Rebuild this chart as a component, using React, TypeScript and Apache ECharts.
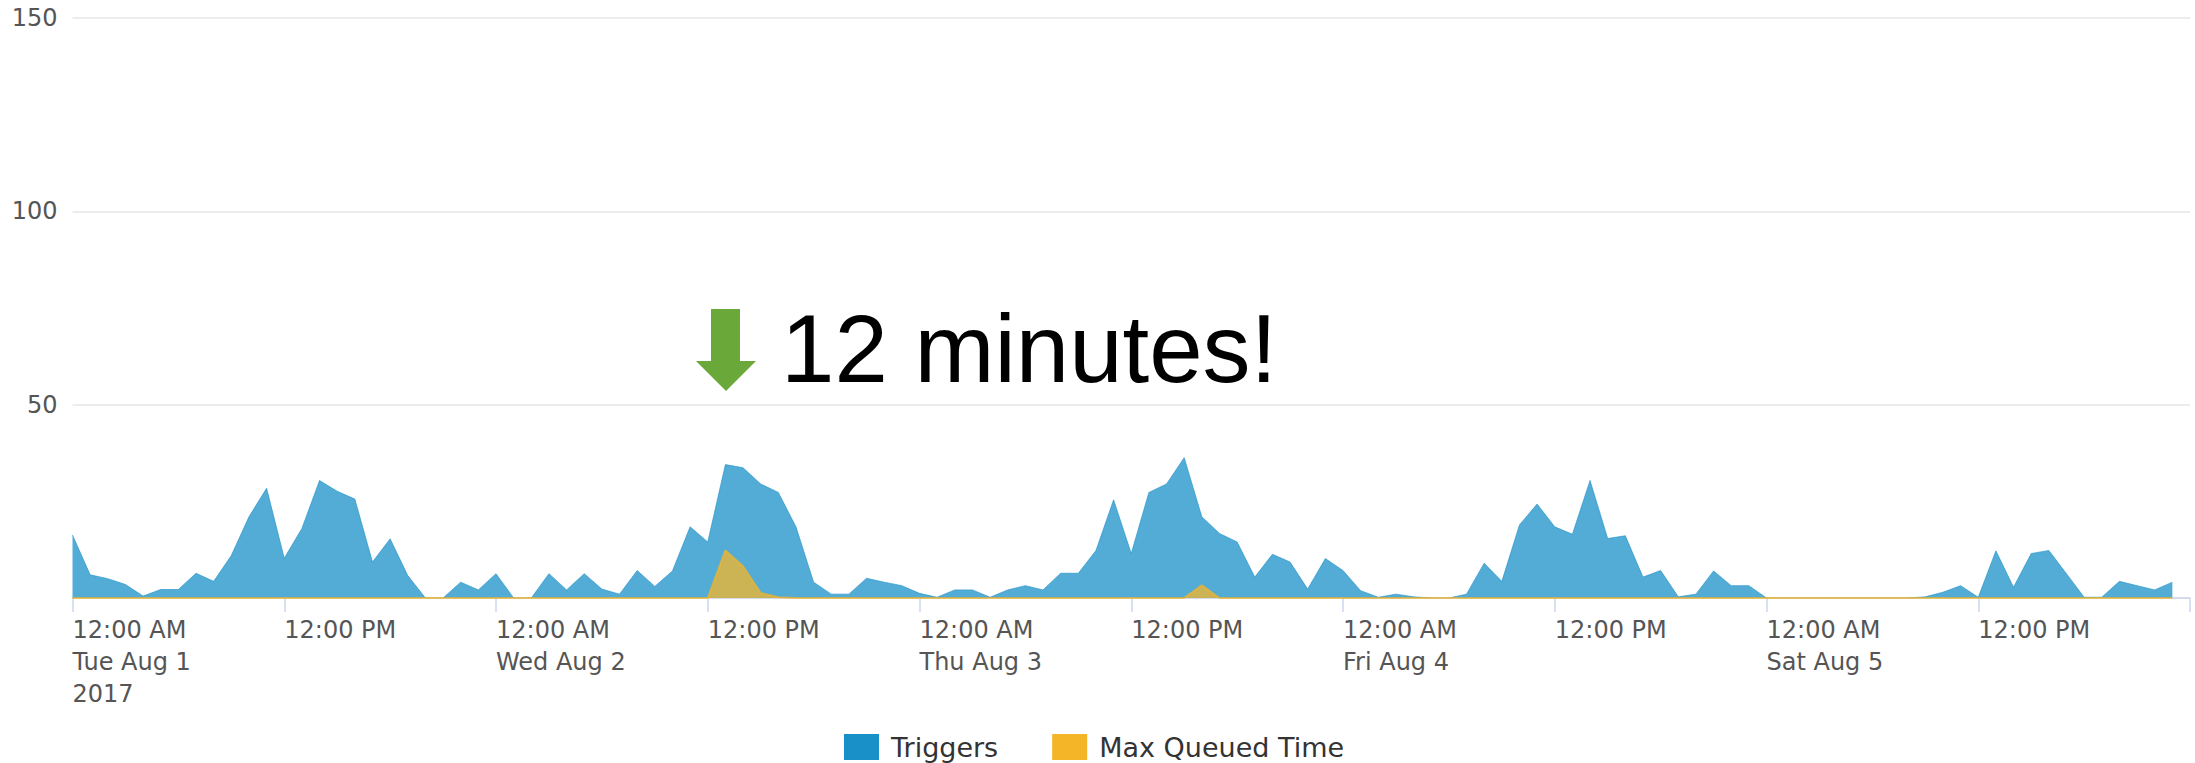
import React, { useEffect, useRef } from "react";
import * as echarts from "echarts";

// Hourly values, Tue Aug 1 2017 00:00 -> Sat Aug 5 23:00
const triggers = [
  16.3, 6, 5, 3.5, 0.5, 2.2, 2.2, 6.4, 4.3, 11, 21, 28.4,
  10.3, 18, 30.4, 27.6, 25.6, 9.3, 15.3, 5.8, 0, 0, 4.1, 2.1,
  6.3, 0, 0, 6.3, 2.1, 6.3, 2.3, 1, 7.1, 3, 7, 18.4,
  14.5, 34.5, 33.7, 29.5, 27.3, 18.4, 4.1, 1, 1, 5.1, 4.1, 3.2,
  1.2, 0.2, 2.1, 2.1, 0.2, 2.1, 3.2, 2.1, 6.4, 6.4, 12.3, 25.4,
  11.5, 27.3, 29.5, 36.3, 21, 16.7, 14.5, 5.4, 11.3, 9.3, 2.3, 10.2,
  7.1, 1.9, 0.2, 1, 0.3, 0, 0, 1, 9, 4.3, 18.9, 24.3,
  18.4, 16.5, 30.4, 15.4, 16.1, 5.4, 7.1, 0.3, 1, 7, 3.2, 3.2,
  0, 0, 0, 0, 0, 0, 0, 0, 0, 0.3, 1.5, 3.2,
  0.2, 12.2, 2.8, 11.5, 12.3, 6.3, 0.2, 0.2, 4.3, 3.2, 2.1, 4.1,
];

const maxQueuedTime = [
  0, 0, 0, 0, 0, 0, 0, 0, 0, 0, 0, 0,
  0, 0, 0, 0, 0, 0, 0, 0, 0, 0, 0, 0,
  0, 0, 0, 0, 0, 0, 0, 0, 0, 0, 0, 0,
  0, 12.3, 8.2, 1.3, 0.2, 0, 0, 0, 0, 0, 0, 0,
  0, 0, 0, 0, 0, 0, 0, 0, 0, 0, 0, 0,
  0, 0, 0, 0, 3.3, 0, 0, 0, 0, 0, 0, 0,
  0, 0, 0, 0, 0, 0, 0, 0, 0, 0, 0, 0,
  0, 0, 0, 0, 0, 0, 0, 0, 0, 0, 0, 0,
  0, 0, 0, 0, 0, 0, 0, 0, 0, 0, 0, 0,
  0, 0, 0, 0, 0, 0, 0, 0, 0, 0, 0, 0,
];

const xTickLabels = [
  "12:00 AM\nTue Aug 1\n2017",
  "12:00 PM",
  "12:00 AM\nWed Aug 2",
  "12:00 PM",
  "12:00 AM\nThu Aug 3",
  "12:00 PM",
  "12:00 AM\nFri Aug 4",
  "12:00 PM",
  "12:00 AM\nSat Aug 5",
  "12:00 PM",
  "",
];

const yTicks = [0, 50, 100, 150];
const yTickLabels = ["", "50", "100", "150"];

const seriesNames = ["Triggers", "Max Queued Time"];
const annotationText = "12 minutes!";

const BLUE = "#1a90c8";
const YELLOW = "#f4b528";

export default function App() {
  const ref = useRef<HTMLDivElement>(null);

  useEffect(() => {
    if (!ref.current) return;
    const chart = echarts.init(ref.current, undefined, { renderer: "svg" });
    const font = "'DejaVu Sans', sans-serif";
    chart.setOption({
      animation: false,
      grid: { left: 72.5, right: 5, top: 18, bottom: 165 },
      legend: {
        data: seriesNames,
        left: 839,
        top: 728,
        icon: "rect",
        itemWidth: 35,
        itemHeight: 26,
        itemGap: 54,
        textStyle: {
          fontFamily: font,
          fontSize: 27,
          lineHeight: 28,
          color: "#333333",
          padding: [0, 0, 0, 7],
        },
      },
      xAxis: {
        type: "value",
        min: 0,
        max: 120,
        interval: 12,
        splitLine: { show: false },
        axisLine: { show: true, lineStyle: { color: "#ccd6eb", width: 1.5 } },
        axisTick: { show: true, length: 14, lineStyle: { color: "#ccd6eb", width: 1.5 } },
        axisLabel: {
          align: "left",
          verticalAlign: "top",
          margin: 16,
          fontFamily: font,
          fontSize: 24,
          lineHeight: 32,
          color: "#555555",
          showMinLabel: true,
          showMaxLabel: true,
          formatter: (v: number) => xTickLabels[Math.round(v / 12)] ?? "",
        },
      },
      yAxis: {
        type: "value",
        min: 0,
        max: 150,
        interval: 50,
        axisLine: { show: false },
        axisTick: { show: false },
        splitLine: { lineStyle: { color: "#e6e6e6", width: 1.5 } },
        axisLabel: {
          margin: 15,
          fontFamily: font,
          fontSize: 24,
          color: "#555555",
          formatter: (v: number) => {
            const i = yTicks.indexOf(v);
            return i >= 0 ? yTickLabels[i] : "";
          },
        },
      },
      series: [
        {
          name: seriesNames[0],
          type: "line",
          color: BLUE,
          showSymbol: false,
          symbol: "none",
          data: triggers.map((v, i) => [i, v]),
          lineStyle: { width: 1, color: BLUE, opacity: 0.6 },
          areaStyle: { color: BLUE, opacity: 0.75 },
          z: 2,
        },
        {
          name: seriesNames[1],
          type: "line",
          color: YELLOW,
          showSymbol: false,
          symbol: "none",
          data: maxQueuedTime.map((v, i) => [i, v]),
          lineStyle: { width: 2, color: YELLOW, opacity: 0.7 },
          areaStyle: { color: YELLOW, opacity: 0.75 },
          z: 3,
        },
      ],
      graphic: [
        {
          type: "polygon",
          shape: {
            points: [
              [711, 309],
              [740, 309],
              [740, 361],
              [756, 361],
              [726, 391],
              [696, 361],
              [711, 361],
            ],
          },
          style: { fill: "#69a839" },
          z: 10,
        },
        {
          type: "text",
          x: 781,
          y: 348,
          style: {
            text: annotationText,
            font: "96px 'Liberation Sans', Arial, sans-serif",
            fill: "#000000",
            align: "left",
            verticalAlign: "middle",
          },
          z: 10,
        },
      ],
    });
    return () => chart.dispose();
  }, []);

  return (
    <div
      ref={ref}
      style={{ position: "absolute", left: 0, top: 0, width: 2195, height: 763 }}
    />
  );
}
